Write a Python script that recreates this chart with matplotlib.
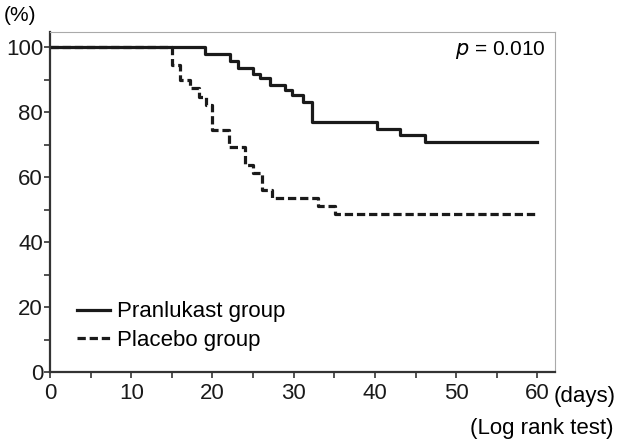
import matplotlib.pyplot as plt

plt.rcParams["font.family"] = ["Liberation Sans", "DejaVu Sans"]

# Kaplan-Meier step data (day, % event-free)
pran_days = [0, 19.1, 22.1, 23.2, 25.0, 25.9, 27.1, 28.9, 29.8, 31.2, 32.2, 40.2, 43.1, 46.1, 60]
pran_pct = [100, 97.9, 95.8, 93.8, 91.9, 90.6, 88.5, 86.9, 85.4, 83.3, 77.1, 75.0, 72.9, 70.8, 70.8]

plac_days = [0, 15.0, 16.0, 17.2, 18.4, 19.2, 20.0, 22.0, 24.0, 25.0, 26.1, 27.3, 33.0, 35.1, 60]
plac_pct = [100, 94.6, 90.0, 87.5, 84.8, 82.3, 74.6, 69.2, 63.8, 61.3, 56.0, 53.6, 51.2, 48.8, 48.8]

x_ticks = [0, 10, 20, 30, 40, 50, 60]
y_ticks = [0, 20, 40, 60, 80, 100]

fig = plt.figure(figsize=(6.17, 4.44), dpi=100)
ax = fig.add_axes([0.081, 0.162, 0.819, 0.767])

ax.step(pran_days, pran_pct, where="post", color="#1a1a1a", lw=2.3, label="Pranlukast group")
ax.step(plac_days, plac_pct, where="post", color="#1a1a1a", lw=2.3,
        linestyle=(0, (2.6, 1.2)), label="Placebo group")

ax.set_xlim(0, 62.2)
ax.set_ylim(0, 104.9)
ax.set_xticks(x_ticks)
ax.set_xticks(range(5, 61, 10), minor=True)
ax.set_yticks(y_ticks)
ax.set_yticks(range(10, 100, 20), minor=True)
ax.tick_params(which="both", direction="out", length=4, width=1.2, color="#333333",
               labelsize=16, colors="#1a1a1a")
ax.tick_params(axis="x", pad=4)
ax.tick_params(axis="y", pad=1)

for side in ["left", "bottom"]:
    ax.spines[side].set_linewidth(1.6)
    ax.spines[side].set_color("#333333")
for side in ["top", "right"]:
    ax.spines[side].set_linewidth(0.8)
    ax.spines[side].set_color("#aaaaaa")

fig.legend(*ax.get_legend_handles_labels(), loc="upper left",
           bbox_to_anchor=(0.1248, 0.321), frameon=False, fontsize=16,
           borderpad=0, borderaxespad=0, handlelength=1.5, handletextpad=0.3,
           labelspacing=0.32)

ax.text(0.98, 0.945, "$p$ = 0.010", transform=ax.transAxes, ha="right", va="center",
        fontsize=15)
fig.text(0.006, 0.965, "(%)", ha="left", va="center", fontsize=15)
fig.text(0.898, 0.108, "(days)", ha="left", va="center", fontsize=16)
fig.text(0.995, 0.035, "(Log rank test)", ha="right", va="center", fontsize=16)

fig.savefig("out.png", dpi=100)
